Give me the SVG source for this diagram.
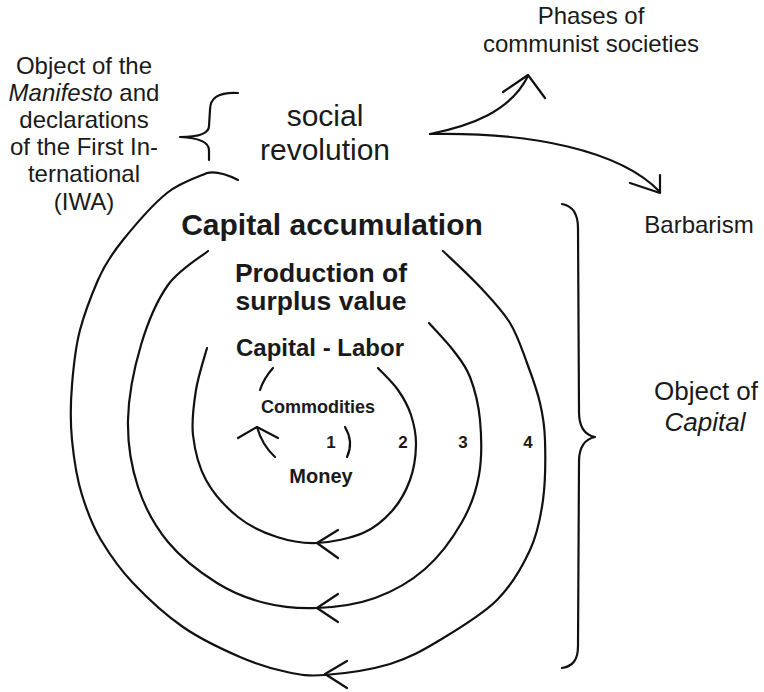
<svg xmlns="http://www.w3.org/2000/svg" width="764" height="692" viewBox="0 0 764 692">
  <style>
    text { font-family: "Liberation Sans", Arial, Helvetica, sans-serif; fill: #1a1a1a; text-anchor: middle; }
    .b { font-weight: bold; }
    .i { font-style: italic; }
    .ln { fill: none; stroke: #111; stroke-width: 2.2; stroke-linecap: round; stroke-linejoin: round; }
  </style>
  <rect width="764" height="692" fill="#fff"/>

  <!-- circuits and connectors -->
  <g id="connectors" class="ln">
    <!-- ring 1: Commodities / Money -->
    <path d="M273,368 Q264,378 260,390"/>
    <path d="M238,438 L257,427 L278,438"/>
    <path d="M257,427 Q262,445 275,457"/>
    <path d="M345,427 Q354,442 347,457"/>

    <!-- ring 2: Capital - Labor -->
    <path d="M207,348 C205.2,355 198.3,375.5 196,390 C193.7,404.5 191.3,420 193,435 C194.7,450 198.5,466.3 206,480 C213.5,493.7 226.2,507.5 238,517 C249.8,526.5 263.8,532.7 277,537 C290.2,541.3 302.7,543.7 317,543 C331.3,542.3 350.5,538.3 363,533 C375.5,527.7 384.2,519.8 392,511 C399.8,502.2 406,491 410,480 C414,469 415.8,455.8 416,445 C416.2,434.2 414,424.2 411,415 C408,405.8 403.5,397.8 398,390 C392.5,382.2 381.3,371.7 378,368"/>
    <path d="M338,530 L317,543 L338,558"/>

    <!-- ring 3: production of surplus value -->
    <path d="M208,251 C201.3,256.7 179.2,269.3 168,285 C156.8,300.7 147.7,322.5 141,345 C134.3,367.5 128.5,396.3 128,420 C127.5,443.7 131.3,466.7 138,487 C144.7,507.3 154.8,526 168,542 C181.2,558 200.8,572.8 217,583 C233.2,593.2 248.3,598.8 265,603 C281.7,607.2 298.7,608.8 317,608 C335.3,607.2 357,604.5 375,598 C393,591.5 410.5,581.7 425,569 C439.5,556.3 453,537.7 462,522 C471,506.3 476,492 479,475 C482,458 481.5,436.3 480,420 C478.5,403.7 474.5,388.7 470,377 C465.5,365.3 459.8,359 453,350 C446.2,341 433,327.5 429,323"/>
    <path d="M338,594 L317,608 L338,622"/>

    <!-- ring 4: capital accumulation, hooked to the brace below "social revolution" -->
    <path d="M238,180 C228,175 216,171 207,173 C200.3,176.3 181,181.8 167,193 C153,204.2 134.7,225.5 123,240 C111.3,254.5 104.5,265 98,280 C91.5,295 84.7,312.5 80,330 C75.3,347.5 73.5,366.7 72,385 C70.5,403.3 70.2,421.7 72,440 C73.8,458.3 76.8,478.3 82,495 C87.2,511.7 92.2,525.3 101,540 C109.8,554.7 119.2,568.5 133,583 C146.8,597.5 165.2,614.7 183,627 C200.8,639.3 222.7,649.5 240,657 C257.3,664.5 272.8,669 287,672 C301.2,675 307.8,676.3 325,675 C342.2,673.7 370.8,669.8 390,664 C409.2,658.2 422.2,650.7 440,640 C457.8,629.3 482,615 497,600 C512,585 522.3,566.7 530,550 C537.7,533.3 540.5,518.3 543,500 C545.5,481.7 545.5,456.2 545,440 C544.5,423.8 543,415.8 540,403 C537,390.2 532,376.3 527,363 C522,349.7 517.8,335.7 510,323 C502.2,310.3 491.2,299 480,287 C468.8,275 449.2,257 443,251"/>
    <path d="M347,661 L325,674 L347,688"/>

    <!-- brace: object of the Manifesto -->
    <path d="M238,93 C218,92 210,98 210,110 L209,126 C209,133 200,137 180,137 C200,138 209,142 209,150 L209,160"/>

    <!-- brace: object of Capital -->
    <path d="M562,204 C573,206 578,214 578,228 L579,412 C579,428 585,435 595,437 C585,439 579,446 579,462 L578,646 C578,660 573,666 562,668"/>

    <!-- outcomes of the social revolution -->
    <path d="M430,134 C470,126 510,112 528,76"/>
    <path d="M503,92 L528,75 L545,98"/>
    <path d="M430,134 C530,132 620,150 660,192"/>
    <path d="M630,183 L660,193 L660,175"/>
  </g>

  <g id="manifesto" font-size="24">
    <text x="84" y="73.5">Object of the</text>
    <text x="84" y="101"><tspan class="i">Manifesto</tspan> and</text>
    <text x="84" y="128">declarations</text>
    <text x="84" y="155">of the First In-</text>
    <text x="84" y="182">ternational</text>
    <text x="84" y="209.5">(IWA)</text>
  </g>

  <g id="social-revolution" font-size="30">
    <text x="325" y="126">social</text>
    <text x="325" y="160">revolution</text>
  </g>

  <g id="communist-phases" font-size="24">
    <text x="591" y="24">Phases of</text>
    <text x="591" y="52">communist societies</text>
  </g>

  <g id="barbarism" font-size="24">
    <text x="699" y="233">Barbarism</text>
  </g>

  <g id="object-capital" font-size="26">
    <text x="706" y="400">Object of</text>
    <text x="705" y="431" class="i">Capital</text>
  </g>

  <g id="accumulation">
    <text x="332" y="235" class="b" font-size="30">Capital accumulation</text>
  </g>

  <g id="surplus-value" font-size="26.5">
    <text x="321" y="282" class="b">Production of</text>
    <text x="321" y="310" class="b">surplus value</text>
  </g>

  <g id="capital-labor">
    <text x="320" y="356" class="b" font-size="24">Capital - Labor</text>
  </g>

  <g id="commodities">
    <text x="318" y="413" class="b" font-size="18">Commodities</text>
  </g>

  <g id="money">
    <text x="321" y="483" class="b" font-size="20">Money</text>
  </g>

  <g id="ring-numbers" font-size="17">
    <text x="331" y="448" class="b">1</text>
    <text x="403" y="448" class="b">2</text>
    <text x="463" y="448" class="b">3</text>
    <text x="528" y="448" class="b">4</text>
  </g>
</svg>
